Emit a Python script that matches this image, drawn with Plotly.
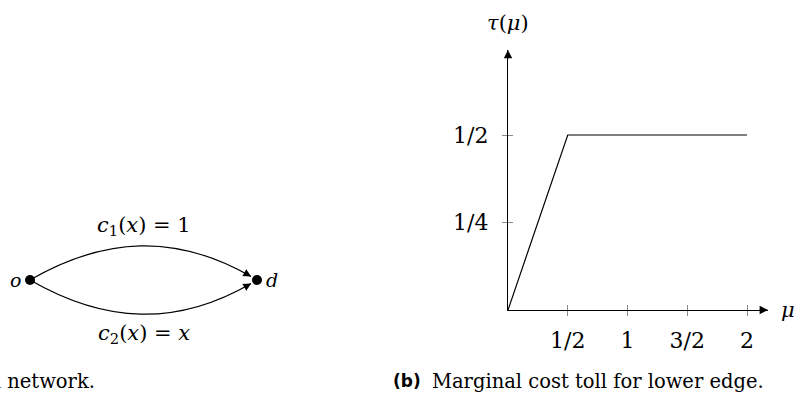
import numpy as np
import plotly.graph_objects as go

# data for the toll curve (panel b)
mu_vals = [0, 0.5, 2]
tau_vals = [0, 0.5, 0.5]
x_tickvals = [0.5, 1, 1.5, 2]
x_ticktext = ["1/2", "1", "3/2", "2"]
y_tickvals = [0.25, 0.5]
y_ticktext = ["1/4", "1/2"]

# network data (panel a)
node_x = [0, 3]
node_y = [0, 0]
node_names = ["<i>o</i>", "<i>d</i>"]
edge_labels = ["<i>c</i><sub>1</sub>(<i>x</i>) = 1", "<i>c</i><sub>2</sub>(<i>x</i>) = <i>x</i>"]
edge_bend = [1, -1]  # bend left / bend right

W, H = 796, 398
serif = "DejaVu Serif"
sans = "DejaVu Sans"
ink = "black"
tick_col = "#8a8a8a"

fig = go.Figure()

# ---- panel a: network ----
fig.add_trace(go.Scatter(
    x=node_x, y=node_y, mode="markers",
    marker=dict(size=10, color=ink), xaxis="x", yaxis="y",
    hoverinfo="skip", showlegend=False,
))

shapes = []
annotations = []

node_r = 0.09  # arrow stops at node border
for lab, s in zip(edge_labels, edge_bend):
    x0, y0 = node_x[0], node_y[0]
    x1, y1 = node_x[1], node_y[1]
    ang = np.deg2rad(30)
    tx = x1 - node_r * np.cos(ang)
    ty = y1 + s * node_r * np.sin(ang)
    d = np.hypot(tx - x0, ty - y0)
    k = 0.3915 * d
    c1x, c1y = x0 + k * np.cos(ang), y0 + s * k * np.sin(ang)
    c2x, c2y = tx - k * np.cos(ang), ty + s * k * np.sin(ang)
    shapes.append(dict(
        type="path", xref="x", yref="y",
        path=f"M {x0},{y0} C {c1x},{c1y} {c2x},{c2y} {tx},{ty}",
        line=dict(color=ink, width=1.2),
    ))
    # arrow tip
    annotations.append(dict(
        x=tx, y=ty, ax=tx - 0.12 * np.cos(ang), ay=ty + s * 0.12 * np.sin(ang),
        xref="x", yref="y", axref="x", ayref="y", text="",
        showarrow=True, arrowhead=2, arrowsize=1.3, arrowwidth=1.2, arrowcolor=ink,
    ))
    annotations.append(dict(
        x=1.5, y=s * 0.71, xref="x", yref="y", text=lab, showarrow=False,
        font=dict(family=serif, size=21, color=ink),
    ))

annotations.append(dict(x=-0.09, y=0, xref="x", yref="y", text=node_names[0], showarrow=False,
                        xanchor="right", font=dict(family=serif, size=19, color=ink)))
annotations.append(dict(x=3.09, y=0, xref="x", yref="y", text=node_names[1], showarrow=False,
                        xanchor="left", font=dict(family=serif, size=19, color=ink)))

# ---- panel b: toll ----
fig.add_trace(go.Scatter(
    x=mu_vals, y=tau_vals, mode="lines",
    line=dict(color=ink, width=1.2), xaxis="x2", yaxis="y2",
    hoverinfo="skip", showlegend=False, cliponaxis=False,
))
# helper traces so the overlay tick axes get drawn
fig.add_trace(go.Scatter(x=[None], y=[None], xaxis="x3", yaxis="y2", showlegend=False))
fig.add_trace(go.Scatter(x=[None], y=[None], xaxis="x2", yaxis="y3", showlegend=False))

x_max, y_max = 2.176, 0.743
annotations.append(dict(x=x_max, y=0, ax=-10, ay=0, xref="x2", yref="y2", text="",
                        showarrow=True, arrowhead=2, arrowsize=1.4, arrowwidth=1.2, arrowcolor=ink))
annotations.append(dict(x=0, y=y_max, ax=0, ay=10, xref="x2", yref="y2", text="",
                        showarrow=True, arrowhead=2, arrowsize=1.4, arrowwidth=1.2, arrowcolor=ink))


def paper_text(px, py, text, size, family=serif, xanchor="center"):
    # place text by pixel position on the page (centre line at py)
    return dict(x=px / W, y=1 - py / H, xref="paper", yref="paper", text=text,
                showarrow=False, xanchor=xanchor, yanchor="middle",
                font=dict(family=family, size=size, color=ink))


# axis titles (paper coords so they are not hidden outside the axis range)
annotations.append(paper_text(779, 310, "<i>μ</i>", 21, xanchor="left"))
annotations.append(paper_text(508, 23, "<i>τ</i>(<i>μ</i>)", 21))

# captions
annotations.append(paper_text(391, 381, "<b>(b)</b>", 17, family=sans, xanchor="left"))
annotations.append(paper_text(430, 381, "Marginal cost toll for lower edge.", 19.5, xanchor="left"))
annotations.append(paper_text(97, 381, "(a) Pigou congestion network.", 19.5, xanchor="right"))

px_u = 75.67  # px per unit in the network panel
ox, oy = 30, 280
axis_common = dict(showgrid=False, zeroline=False)

fig.update_layout(
    width=W, height=H,
    margin=dict(l=0, r=0, t=0, b=0),
    paper_bgcolor="white", plot_bgcolor="rgba(0,0,0,0)",
    shapes=shapes, annotations=annotations,
    xaxis=dict(domain=[0, 300 / W], range=[-ox / px_u, (300 - ox) / px_u], visible=False,
               anchor="y", **axis_common),
    yaxis=dict(domain=[0, 1], range=[-(H - oy) / px_u, oy / px_u], visible=False,
               anchor="x", **axis_common),
    xaxis2=dict(domain=[508 / W, (508 + x_max * 119.5) / W], range=[0, x_max], anchor="y2",
                showline=True, linecolor=ink, linewidth=1.2,
                tickvals=x_tickvals, ticktext=x_ticktext, ticks="outside", ticklen=5,
                tickcolor=tick_col, tickwidth=1, ticklabelstandoff=5,
                tickfont=dict(family=serif, size=22, color=ink), **axis_common),
    yaxis2=dict(domain=[(H - 310) / H, (H - 310 + y_max * 350) / H], range=[0, y_max], anchor="x2",
                showline=True, linecolor=ink, linewidth=1.2,
                tickvals=y_tickvals, ticktext=y_ticktext, ticks="outside", ticklen=5,
                tickcolor=tick_col, tickwidth=1, ticklabelstandoff=9,
                tickfont=dict(family=serif, size=22, color=ink), **axis_common),
    xaxis3=dict(overlaying="x2", matches="x2", anchor="y2", tickvals=x_tickvals, ticks="inside",
                ticklen=5, tickcolor=tick_col, tickwidth=1, showticklabels=False, showline=False,
                **axis_common),
    yaxis3=dict(overlaying="y2", matches="y2", anchor="x2", tickvals=y_tickvals, ticks="inside",
                ticklen=5, tickcolor=tick_col, tickwidth=1, showticklabels=False, showline=False,
                **axis_common),
)

# the page body has a default 8px margin; drop it so the figure fills the window
fig.write_html("out.html", config={"displayModeBar": False},
               post_script="document.body.style.margin='0';")
